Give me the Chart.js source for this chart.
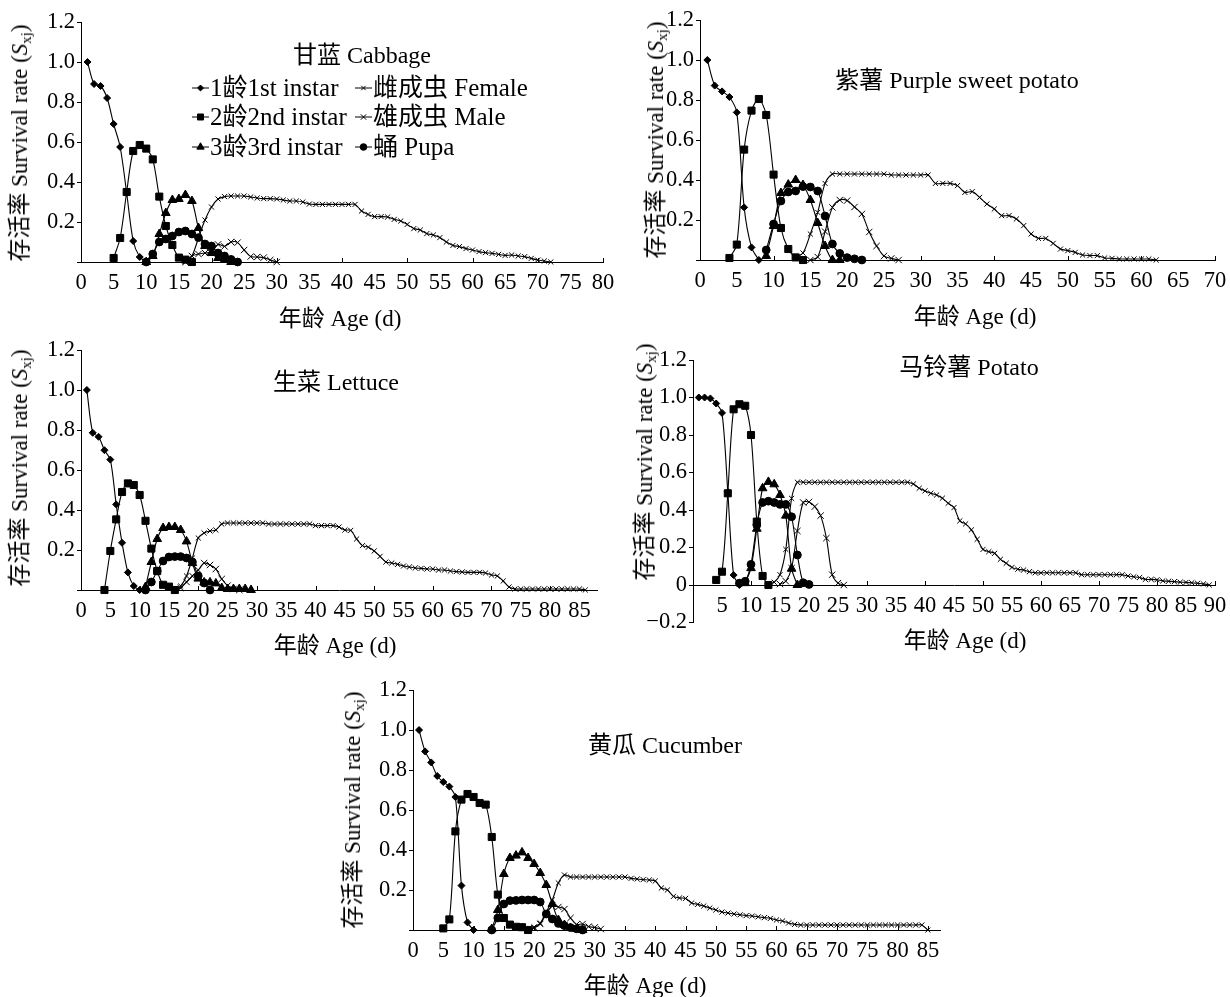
<!DOCTYPE html>
<html><head><meta charset="utf-8">
<script src="https://cdn.jsdelivr.net/npm/chart.js@4/dist/chart.umd.min.js"></script>
<style>
body{margin:0;background:#fff;}
#wrap{position:relative;width:1230px;height:997px;overflow:hidden;background:#fff;font-family:'Liberation Serif','Noto Sans CJK SC',serif;color:#000;}
#wrap canvas{position:absolute;}
.t{position:absolute;white-space:nowrap;font-size:24px;line-height:1;transform:translate(-50%,-50%);}
.xt{font-size:23px;}
.yt{position:absolute;white-space:nowrap;font-size:23px;line-height:1;transform:translate(-50%,-50%) rotate(-90deg);}
.yt sub{font-size:15px;vertical-align:-4px;}
</style></head>
<body><div id="wrap"></div>
<script>
// ---------------- DATA ----------------
const tickStep = 5;
const legendLabels = ['1龄1st instar','2龄2nd instar','3龄3rd instar','雌成虫 Female','雄成虫 Male','蛹 Pupa'];
const panelTitles = ['甘蓝 Cabbage','紫薯 Purple sweet potato','生菜 Lettuce','马铃薯 Potato','黄瓜 Cucumber'];
const xAxisTitle = '年龄 Age (d)';

// Cabbage
const cabbageStart = {instar1:1, instar2:5, instar3:10, pupa:10, female:16, male:16};
const cabbageInstar1 = [1.00,0.89,0.88,0.82,0.69,0.575,0.345,0.105,0.025,0.0];
const cabbageInstar2 = [0.02,0.12,0.35,0.555,0.585,0.567,0.513,0.327,0.18,0.085,0.022,0.012,0.0];
const cabbageInstar3 = [0.0,0.03,0.14,0.245,0.31,0.315,0.335,0.305,0.17,0.08,0.045,0.02,0.01,0.0];
const cabbagePupa = [0.0,0.04,0.1,0.115,0.13,0.15,0.155,0.14,0.122,0.09,0.08,0.045,0.03,0.013,0.0];
const cabbageFemale = [0.0,0.03,0.12,0.21,0.275,0.315,0.327,0.33,0.33,0.33,0.325,0.32,0.317,0.317,0.315,0.31,0.305,0.305,0.3,0.29,0.288,0.288,0.288,0.288,0.288,0.288,0.288,0.255,0.238,0.227,0.227,0.225,0.213,0.205,0.188,0.167,0.16,0.142,0.135,0.122,0.1,0.083,0.077,0.067,0.06,0.052,0.047,0.043,0.038,0.033,0.035,0.03,0.027,0.018,0.01,0.005,0.0];
const cabbageMale = [0.0,0.03,0.04,0.045,0.05,0.088,0.078,0.1,0.097,0.06,0.027,0.025,0.022,0.01,0.0];

// Purple sweet potato
const purpleStart = {instar1:1, instar2:4, instar3:9, pupa:9, female:13, male:15};
const purpleInstar1 = [1.0,0.872,0.843,0.815,0.738,0.263,0.063,0.0];
const purpleInstar2 = [0.01,0.077,0.552,0.747,0.805,0.725,0.427,0.16,0.055,0.013,0.0];
const purpleInstar3 = [0.02,0.17,0.335,0.377,0.4,0.375,0.3,0.185,0.07,0.0,0.0];
const purplePupa = [0.05,0.18,0.295,0.34,0.345,0.367,0.365,0.345,0.22,0.08,0.033,0.012,0.006,0.0];
const purpleFemale = [0.015,0.035,0.13,0.238,0.383,0.43,0.43,0.43,0.43,0.43,0.43,0.43,0.43,0.425,0.425,0.425,0.425,0.425,0.425,0.383,0.383,0.383,0.372,0.338,0.342,0.313,0.28,0.255,0.222,0.222,0.205,0.172,0.13,0.108,0.108,0.083,0.055,0.047,0.038,0.025,0.022,0.022,0.01,0.008,0.005,0.005,0.005,0.005,0.005,0.0];
const purpleMale = [0.0,0.015,0.142,0.263,0.3,0.297,0.265,0.23,0.14,0.07,0.02,0.008,0.0];

// Lettuce
const lettuceStart = {instar1:1, instar2:4, instar3:11, pupa:11, female:16, male:16};
const lettuceInstar1 = [1.0,0.786,0.766,0.699,0.652,0.428,0.236,0.088,0.02,0.0];
const lettuceInstar2 = [0.0,0.195,0.353,0.49,0.533,0.525,0.475,0.346,0.207,0.095,0.026,0.017,0.0];
const lettuceInstar3 = [0.015,0.14,0.255,0.31,0.315,0.315,0.3,0.243,0.135,0.057,0.038,0.038,0.033,0.01,0.005,0.005,0.005,0.005,0.0];
const lettucePupa = [0.0,0.04,0.095,0.145,0.165,0.167,0.167,0.16,0.14,0.07,0.035,0.0];
const lettuceFemale = [0.0,0.02,0.07,0.16,0.26,0.285,0.295,0.3,0.33,0.335,0.335,0.335,0.335,0.335,0.335,0.335,0.33,0.33,0.33,0.33,0.33,0.33,0.33,0.33,0.322,0.322,0.322,0.322,0.315,0.3,0.298,0.255,0.222,0.214,0.195,0.168,0.14,0.135,0.128,0.12,0.115,0.11,0.108,0.105,0.105,0.1,0.1,0.095,0.092,0.09,0.088,0.088,0.088,0.085,0.075,0.07,0.045,0.015,0.005,0.005,0.005,0.005,0.005,0.005,0.005,0.005,0.005,0.005,0.005,0.005,0.0];
const lettuceMale = [0.0,0.01,0.04,0.07,0.1,0.135,0.125,0.105,0.055,0.022,0.005,0.0];

// Potato
const potatoStart = {instar1:1, instar2:4, instar3:9, pupa:8, female:13, male:15};
const potatoInstar1 = [1.0,1.0,0.995,0.968,0.918,0.497,0.053,0.0];
const potatoInstar2 = [0.027,0.071,0.489,0.937,0.964,0.956,0.8,0.338,0.048,0.0];
const potatoInstar3 = [0.01,0.09,0.3,0.516,0.55,0.537,0.48,0.37,0.087,0.0];
const potatoPupa = [0.01,0.02,0.11,0.32,0.44,0.447,0.44,0.43,0.43,0.364,0.16,0.012,0.003];
const potatoFemale = [0.005,0.015,0.055,0.19,0.462,0.548,0.548,0.548,0.548,0.548,0.548,0.548,0.548,0.548,0.548,0.548,0.548,0.548,0.548,0.548,0.548,0.548,0.548,0.548,0.548,0.539,0.516,0.502,0.489,0.48,0.463,0.436,0.413,0.342,0.326,0.294,0.244,0.19,0.178,0.169,0.137,0.116,0.094,0.084,0.08,0.071,0.065,0.065,0.065,0.065,0.065,0.065,0.065,0.065,0.055,0.055,0.055,0.055,0.055,0.055,0.055,0.055,0.048,0.044,0.04,0.03,0.03,0.028,0.022,0.02,0.018,0.015,0.014,0.012,0.009,0.006,0.0];
const potatoMale = [0.005,0.02,0.09,0.288,0.44,0.443,0.418,0.37,0.25,0.055,0.01,0.0];

// Cucumber
const cucumberStart = {instar1:1, instar2:5, instar3:13, pupa:13, female:19, male:19};
const cucumberInstar1 = [1.0,0.893,0.838,0.77,0.74,0.717,0.665,0.222,0.038,0.0];
const cucumberInstar2 = [0.008,0.053,0.493,0.652,0.68,0.665,0.635,0.627,0.465,0.177,0.06,0.027,0.016,0.014,0.0];
const cucumberInstar3 = [0.005,0.1,0.28,0.36,0.372,0.388,0.36,0.33,0.285,0.225,0.13,0.05,0.025,0.01,0.005,0.0];
const cucumberPupa = [0.0,0.06,0.13,0.147,0.148,0.15,0.15,0.15,0.14,0.08,0.055,0.033,0.022,0.012,0.006,0.0];
const cucumberFemale = [0.0,0.015,0.035,0.09,0.15,0.235,0.275,0.265,0.265,0.265,0.265,0.265,0.265,0.265,0.265,0.265,0.265,0.258,0.255,0.252,0.25,0.245,0.21,0.2,0.168,0.16,0.158,0.135,0.128,0.12,0.11,0.1,0.09,0.085,0.08,0.076,0.072,0.07,0.066,0.062,0.058,0.05,0.045,0.035,0.028,0.025,0.025,0.025,0.025,0.025,0.025,0.025,0.025,0.025,0.025,0.025,0.025,0.025,0.025,0.025,0.025,0.025,0.025,0.025,0.025,0.025,0.0];
const cucumberMale = [0.0,0.01,0.03,0.08,0.12,0.115,0.105,0.06,0.028,0.03,0.017,0.013,0.005];

// ---------------- STYLE / LAYOUT ----------------
const FONT = "'Liberation Serif','Noto Sans CJK SC',serif";
const TICK_SIZE = 22.5;
const STYLE = {
  instar1:{pointStyle:'rectRot', radius:3.5},
  instar2:{pointStyle:'rect', radius:5},
  instar3:{pointStyle:'triangle', radius:5},
  pupa:{pointStyle:'circle', radius:3.9},
  female:{pointStyle:'crossRot', radius:3.6},
  male:{pointStyle:'crossRot', radius:4.5}
};
const ORDER = ['female','male','instar1','instar2','instar3','pupa'];

const panels = [
  {name:'cabbage', start:cabbageStart, series:{instar1:cabbageInstar1,instar2:cabbageInstar2,instar3:cabbageInstar3,pupa:cabbagePupa,female:cabbageFemale,male:cabbageMale},
   area:{l:81,t:22,r:603,b:262}, xmax:80, ymin:0, tickEvery:10, title:[362,55], xt:[340,318], yt:[21,143], legend:true, midAxis:false},
  {name:'purple', start:purpleStart, series:{instar1:purpleInstar1,instar2:purpleInstar2,instar3:purpleInstar3,pupa:purplePupa,female:purpleFemale,male:purpleMale},
   area:{l:700,t:20,r:1215,b:260}, xmax:70, ymin:0, tickEvery:10, title:[957,80], xt:[975,316], yt:[657,140], midAxis:false},
  {name:'lettuce', start:lettuceStart, series:{instar1:lettuceInstar1,instar2:lettuceInstar2,instar3:lettuceInstar3,pupa:lettucePupa,female:lettuceFemale,male:lettuceMale},
   area:{l:81,t:350,r:597,b:590}, xmax:88, ymin:0, tickEvery:10, title:[336,382], xt:[335,645], yt:[21,468], midAxis:false},
  {name:'potato', start:potatoStart, series:{instar1:potatoInstar1,instar2:potatoInstar2,instar3:potatoInstar3,pupa:potatoPupa,female:potatoFemale,male:potatoMale},
   area:{l:693,t:360,r:1215,b:622.5}, xmax:90, ymin:-0.2, tickEvery:10, title:[969,367], xt:[965,640], yt:[646,462], midAxis:true},
  {name:'cucumber', start:cucumberStart, series:{instar1:cucumberInstar1,instar2:cucumberInstar2,instar3:cucumberInstar3,pupa:cucumberPupa,female:cucumberFemale,male:cucumberMale},
   area:{l:413,t:690,r:940,b:930}, xmax:87, ymin:0, tickEvery:5, title:[665,745], xt:[645,985], yt:[354,810], midAxis:false}
];

const YW = 52, XH = 34;

const innerTicks = {
  id:'innerTicks',
  afterDraw(chart, args, opts){
    const xs = chart.scales.x, ys = chart.scales.y, ctx = chart.ctx;
    const y0 = ys.getPixelForValue(0);
    ctx.save(); ctx.strokeStyle = '#000'; ctx.lineWidth = 1; ctx.beginPath();
    for (let v = opts.every; v <= xs.max; v += opts.every){
      const px = Math.round(xs.getPixelForValue(v)) + 0.5;
      ctx.moveTo(px, y0); ctx.lineTo(px, y0 - 4);
    }
    ctx.stroke(); ctx.restore();
  }
};

const seriesLegend = {
  id:'seriesLegend',
  afterDraw(chart, args, opts){
    if (!opts.items) return;
    const ctx = chart.ctx;
    ctx.save();
    ctx.font = '25px ' + FONT; ctx.textBaseline = 'middle'; ctx.fillStyle = '#000';
    opts.items.forEach(it => {
      ctx.strokeStyle = '#000'; ctx.lineWidth = 1;
      ctx.beginPath(); ctx.moveTo(it.x, it.y); ctx.lineTo(it.x + 17, it.y); ctx.stroke();
      Chart.helpers.drawPoint(ctx, {pointStyle: STYLE[it.key].pointStyle, radius: STYLE[it.key].radius * 0.85, borderWidth: 1, rotation: 0}, it.x + 8.5, it.y);
      ctx.fillStyle = '#000';
      ctx.fillText(it.label, it.x + 18, it.y + 1);
    });
    ctx.restore();
  }
};

const wrap = document.getElementById('wrap');

function fmtY(v, showZero){
  const r = Math.round(v * 10) / 10;
  if (Math.abs(r) < 1e-9) return showZero ? '0' : '';
  return (r < 0 ? '\u2212' : '') + Math.abs(r).toFixed(1);
}

panels.forEach((p, idx) => {
  const a = p.area;
  const mid = !!p.midAxis;
  const cx = Math.floor(a.l - 82), cy = Math.floor(a.t - 16);
  const cw = Math.ceil(a.r - cx + 32);
  const ch = Math.ceil(a.b - cy + (mid ? 24 : 54));
  const cv = document.createElement('canvas');
  cv.width = cw; cv.height = ch;
  cv.style.left = cx + 'px'; cv.style.top = cy + 'px';
  cv.style.width = cw + 'px'; cv.style.height = ch + 'px';
  wrap.appendChild(cv);

  const datasets = ORDER.map(k => ({
    label: k,
    data: p.series[k].map((v, i) => ({x: p.start[k] + i, y: v})),
    borderColor:'#000', backgroundColor:'#000', borderWidth:1.1,
    pointStyle: STYLE[k].pointStyle, pointRadius: STYLE[k].radius, pointHoverRadius: STYLE[k].radius,
    pointBorderWidth:1, pointBackgroundColor:'#000', pointBorderColor:'#000',
    tension:0.3, clip:false
  }));

  let legendItems = null;
  if (p.legend){
    const rows = [88, 117, 147];
    const keysL = ['instar1','instar2','instar3'], keysR = ['female','male','pupa'];
    legendItems = [];
    keysL.forEach((k, i) => legendItems.push({key:k, label:legendLabels[i], x:192 - cx, y:rows[i] - cy}));
    keysR.forEach((k, i) => legendItems.push({key:k, label:legendLabels[3 + i], x:355 - cx, y:rows[i] - cy}));
  }

  const pad = {
    left: (a.l - cx) - YW,
    top: a.t - cy,
    right: cw - (a.r - cx),
    bottom: mid ? ch - (a.b - cy) : ch - (a.b - cy) - XH
  };

  const chart = new Chart(cv, {
    type:'line',
    data:{datasets},
    plugins:[innerTicks, seriesLegend],
    options:{
      responsive:false, animation:false, devicePixelRatio:1, events:[],
      layout:{padding:pad},
      plugins:{legend:{display:false}, tooltip:{enabled:false}, title:{display:false},
               innerTicks:{every:p.tickEvery}, seriesLegend:{items:legendItems}},
      scales:{
        x:{type:'linear', min:0, max:p.xmax, position: mid ? {y:0} : 'bottom',
           afterFit: s => { if (!mid) s.height = XH; },
           grid:{display:false, drawTicks:false}, border:{display:true, color:'#000', width:1},
           ticks:{stepSize:tickStep, autoSkip:false, maxRotation:0, minRotation:0, includeBounds:false, padding:8,
                  color:'#000', font:{family:FONT, size:TICK_SIZE},
                  callback: v => (v === 0 && mid) ? '' : (v % 5 === 0 ? String(v) : '')}},
        y:{type:'linear', min:p.ymin, max:1.2, afterFit: s => { s.width = YW; },
           grid:{display:true, drawOnChartArea:false, drawTicks:true, tickLength:4, color:'#000', lineWidth:1},
           border:{display:true, color:'#000', width:1},
           ticks:{stepSize:0.2, padding:2, color:'#000', font:{family:FONT, size:TICK_SIZE}, autoSkip:false,
                  callback: v => fmtY(v, mid)}}
      }
    }
  });

  for (let it = 0; it < 2; it++){
    const ca = chart.chartArea;
    const L = a.l - cx, T = a.t - cy, R = a.r - cx, B = a.b - cy;
    const q = chart.options.layout.padding;
    chart.options.layout.padding = {
      left: q.left + (L - ca.left), top: q.top + (T - ca.top),
      right: q.right + (ca.right - R), bottom: q.bottom + (ca.bottom - B)
    };
    chart.update();
  }

  const t = document.createElement('div'); t.className = 't';
  t.style.left = p.title[0] + 'px'; t.style.top = p.title[1] + 'px'; t.textContent = panelTitles[idx];
  wrap.appendChild(t);
  const xt = document.createElement('div'); xt.className = 't xt';
  xt.style.left = p.xt[0] + 'px'; xt.style.top = p.xt[1] + 'px'; xt.textContent = xAxisTitle;
  wrap.appendChild(xt);
  const yt = document.createElement('div'); yt.className = 'yt';
  yt.style.left = p.yt[0] + 'px'; yt.style.top = p.yt[1] + 'px';
  yt.innerHTML = '存活率 Survival rate (<i>S</i><sub>xj</sub>)';
  wrap.appendChild(yt);
});
</script>
</body></html>
